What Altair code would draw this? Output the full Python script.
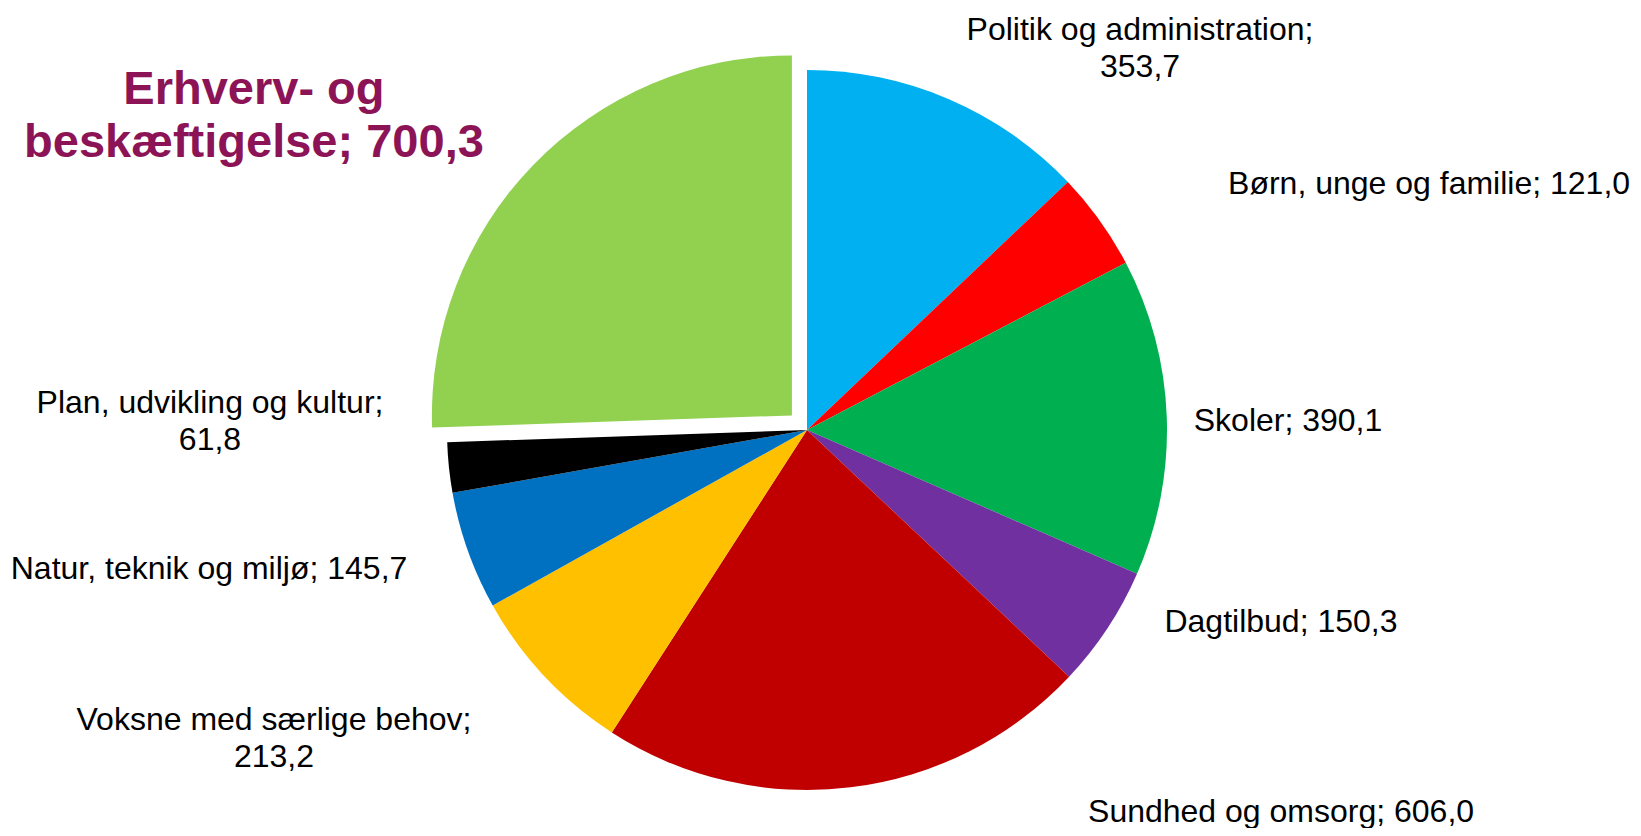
import math
import altair as alt
import pandas as pd

# ---- data -------------------------------------------------------------
categories = [
    "Politik og administration",
    "Børn, unge og familie",
    "Skoler",
    "Dagtilbud",
    "Sundhed og omsorg",
    "Voksne med særlige behov",
    "Natur, teknik og miljø",
    "Plan, udvikling og kultur",
    "Erhverv- og beskæftigelse",
]
values = [353.7, 121.0, 390.1, 150.3, 606.0, 213.2, 145.7, 61.8, 700.3]
colors = ["#00B0F0", "#FF0000", "#00B050", "#7030A0", "#C00000",
          "#FFC000", "#0070C0", "#000000", "#92D050"]
label_names = [
    "Politik og administration;\n",
    "Børn, unge og familie; ",
    "Skoler; ",
    "Dagtilbud; ",
    "Sundhed og omsorg; ",
    "Voksne med særlige behov;\n",
    "Natur, teknik og miljø; ",
    "Plan, udvikling og kultur;\n",
    "Erhverv- og\nbeskæftigelse; ",
]
exploded = "Erhverv- og beskæftigelse"

# ---- label layout (angle shift from slice middle in degrees, distance from centre in px)
label_shift = [16.56, 14.03, 1.0, -11.35, -44.19, 14.63, 6.53, 8.59, -12.45]
label_radius = [520.5, 669.0, 481.1, 511.4, 608.8, 606.8, 613.9, 597.6, 649.2]

W, H = 1625, 820
CX, CY = 799, 422
R = 360
EXPLODE = 21
FONT = "Liberation Sans"

texts = [n + f"{v:.1f}".replace(".", ",") for n, v in zip(label_names, values)]
df = pd.DataFrame({
    "idx": list(range(len(categories))),
    "category": categories,
    "value": values,
    "text": texts,
    "shift": label_shift,
    "lrad": label_radius,
})

# explode offset along the bisector of the exploded slice
total = sum(values)
k = categories.index(exploded)
mid = (sum(values[:k]) + values[k] / 2) / total * 2 * math.pi
ex_dx = EXPLODE * math.sin(mid)
ex_dy = -EXPLODE * math.cos(mid)

base = alt.Chart(df)
color_enc = alt.Color("category:N", scale=alt.Scale(domain=categories, range=colors), legend=None)

pie = base.mark_arc(outerRadius=R).encode(
    theta=alt.Theta("value:Q", stack=True),
    order=alt.Order("idx:Q"),
    color=color_enc,
    opacity=alt.condition(alt.datum.category == exploded, alt.value(0), alt.value(1)),
    x=alt.value(CX),
    y=alt.value(CY),
)

pie_ex = base.mark_arc(outerRadius=R).encode(
    theta=alt.Theta("value:Q", stack=True),
    order=alt.Order("idx:Q"),
    color=color_enc,
    opacity=alt.condition(alt.datum.category == exploded, alt.value(1), alt.value(0)),
    x=alt.value(CX + ex_dx),
    y=alt.value(CY + ex_dy),
)

lab_base = (
    base.transform_joinaggregate(total="sum(value)")
    .transform_window(cum="sum(value)", sort=[alt.SortField(field="idx", order="ascending")])
    .transform_calculate(
        ang="((datum.cum - datum.value/2)/datum.total)*2*PI + datum.shift*PI/180",
    )
    .transform_calculate(
        lx=f"{CX} + datum.lrad*sin(datum.ang)",
        ly=f"{CY} - datum.lrad*cos(datum.ang)",
    )
)

labels = lab_base.transform_filter(alt.datum.category != exploded).mark_text(
    align="center", baseline="middle", lineBreak="\n", font=FONT,
    fontSize=32, lineHeight=37.5, color="#000000",
).encode(
    x=alt.X("lx:Q", scale=None, axis=None),
    y=alt.Y("ly:Q", scale=None, axis=None),
    text="text:N",
)

title_lab = lab_base.transform_filter(alt.datum.category == exploded).mark_text(
    align="center", baseline="middle", lineBreak="\n", font=FONT,
    fontSize=47, fontWeight="bold", lineHeight=53, color="#8C1456",
).encode(
    x=alt.X("lx:Q", scale=None, axis=None),
    y=alt.Y("ly:Q", scale=None, axis=None),
    text="text:N",
)

chart = (
    alt.layer(pie, pie_ex, labels, title_lab)
    .properties(width=W, height=H, padding=0,
                autosize=alt.AutoSizeParams(type="none"), background="white")
    .configure_view(stroke=None)
)

chart.save("out.html", embed_options={"renderer": "svg", "actions": False})
